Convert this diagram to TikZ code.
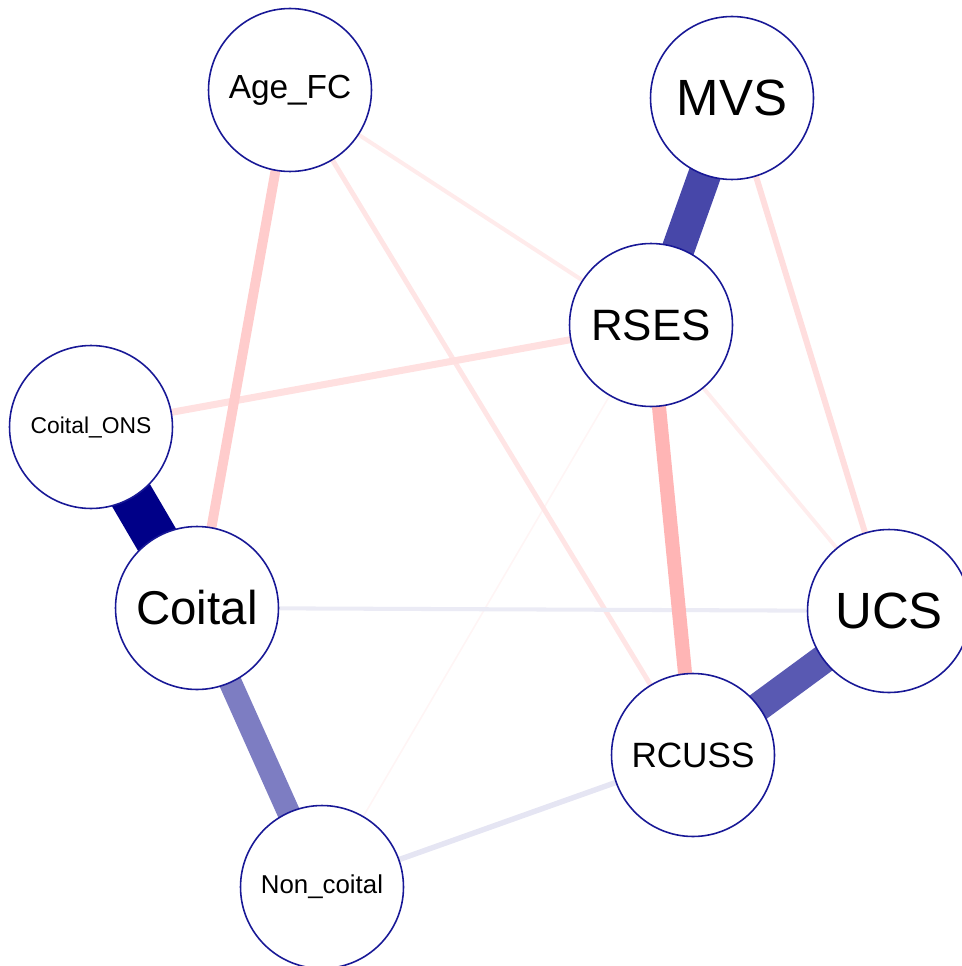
\documentclass[tikz,border=0pt]{standalone}
\usepackage{fontspec}
\setmainfont{Liberation Sans}
\usetikzlibrary{backgrounds}
\definecolor{qnavy}{RGB}{0,0,136}
\definecolor{rimblue}{RGB}{24,24,150}
\tikzset{vertex/.style={circle, draw=rimblue, line width=0.9pt, fill=white, minimum size=3.26cm, inner sep=0pt}}

\begin{document}
\begin{tikzpicture}[x=0.02cm, y=-0.02cm]
			%%%%% START %%%%%
			
			\useasboundingbox (0, 0) rectangle (961, 966);
			
			\node[vertex, font=\fontsize{19}{19}\selectfont] (agefc) at (290, 90) {Age\_FC};
			\node[vertex, font=\fontsize{29}{29}\selectfont] (mvs) at (732, 98) {MVS};
			\node[vertex, font=\fontsize{25}{25}\selectfont] (rses) at (651, 325) {RSES};
			\node[vertex, font=\fontsize{13}{13}\selectfont] (ons) at (91, 427) {Coital\_ONS};
			\node[vertex, font=\fontsize{27}{27}\selectfont] (coital) at (197, 608) {Coital};
			\node[vertex, font=\fontsize{29}{29}\selectfont] (ucs) at (889, 611) {UCS};
			\node[vertex, font=\fontsize{20}{20}\selectfont] (rcuss) at (693, 755) {RCUSS};
			\node[vertex, font=\fontsize{14.7}{14.7}\selectfont] (noncoital) at (322, 887) {Non\_coital};
			
			\begin{pgfonlayer}{background}
			% weak edges
			\draw[line width=0.9pt, color=red!4] (noncoital.center) -- (rses.center);
			\draw[line width=2.2pt, color=red!7] (rses.center) -- (ucs.center);
			\draw[line width=2.3pt, color=red!8] (agefc.center) -- (rses.center);
			\draw[line width=2.8pt, color=red!10] (agefc.center) -- (rcuss.center);
			\draw[line width=2.3pt, color=qnavy!8] (coital.center) -- (ucs.center);
			\draw[line width=3.1pt, color=qnavy!10] (noncoital.center) -- (rcuss.center);
			\draw[line width=3.4pt, color=red!13] (mvs.center) -- (ucs.center);
			\draw[line width=4pt, color=red!12] (rses.center) -- (ons.center);
			\draw[line width=5.6pt, color=red!20] (agefc.center) -- (coital.center);
			
			% strong edges
			\draw[line width=8pt, color=red!29] (rses.center) -- (rcuss.center);
			\draw[line width=13pt, color=qnavy!51] (coital.center) -- (noncoital.center);
			\draw[line width=16.4pt, color=qnavy!65] (ucs.center) -- (rcuss.center);
			\draw[line width=18.7pt, color=qnavy!72] (mvs.center) -- (rses.center);
			\draw[line width=25pt, color=qnavy] (ons.center) -- (coital.center);
			\end{pgfonlayer}
			
			%%%%% END %%%%%
		\end{tikzpicture}
\end{document}
